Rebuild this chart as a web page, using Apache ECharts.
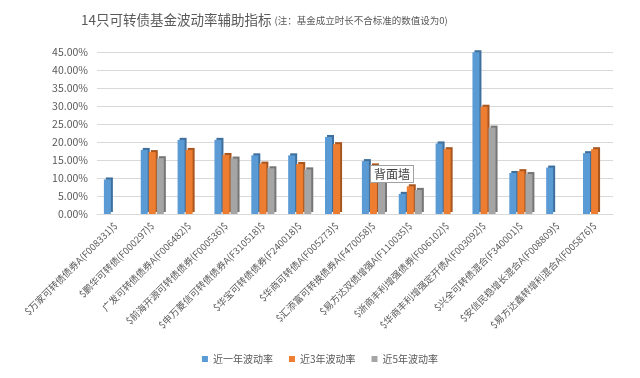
<!DOCTYPE html>
<html>
<head>
<meta charset="utf-8">
<script src="https://cdn.jsdelivr.net/npm/echarts@6/dist/echarts.min.js"></script>
<style>
  html, body { margin: 0; padding: 0; background: #fff; }
  #main { width: 640px; height: 378px; }
</style>
</head>
<body>
<div id="main"></div>
<script>
var funds = [
  '$万家可转债债券A(F008331)$', '$鹏华可转债(F000297)$', '广发可转债债券A(F006482)$',
  '$前海开源可转债债券(F000536)$', '$申万菱信可转债债券A(F310518)$', '$华宝可转债债券(F240018)$',
  '$华商可转债A(F005273)$', '$汇添富可转换债券A(F470058)$', '$易方达双债增强A(F110035)$',
  '$浙商丰利增强债券(F006102)$', '$华商丰利增强定开债A(F003092)$', '$兴全可转债混合(F340001)$',
  '$安信民稳增长混合A(F008809)$', '$易方达鑫转增利混合A(F005876)$'
];
var vol1y = [9.6, 17.8, 20.6, 20.6, 16.3, 16.3, 21.4, 14.7, 5.6, 19.6, 44.9, 11.4, 12.9, 16.9];
var vol3y = [0, 17.2, 17.8, 16.4, 14.0, 13.9, 19.4, 13.5, 7.7, 18.0, 29.8, 11.9, 0, 18.0];
var vol5y = [0, 15.5, 0, 15.4, 12.7, 12.4, 0, 12.5, 6.7, 0, 24.0, 11.1, 0, 0];

var seriesNames = ['近一年波动率', '近3年波动率', '近5年波动率'];
var colors = ['#5B9BD5', '#ED7D31', '#A5A5A5'];
var sideColors = ['#3F6F9C', '#A8561F', '#767676'];
var font = '"Noto Sans CJK SC", "Noto Sans", sans-serif';

function makeBar(i, values) {
  return {
    name: seriesNames[i],
    type: 'bar',
    data: values,
    barWidth: 7,
    barGap: '15%',
    itemStyle: {
      color: colors[i],
      shadowColor: sideColors[i],
      shadowBlur: 0,
      shadowOffsetX: 2,
      shadowOffsetY: -2
    }
  };
}

var myChart = echarts.init(document.getElementById('main'));
var option = {
  backgroundColor: '#fff',
  textStyle: { fontFamily: font },
  title: {
    text: '{a|14只可转债基金波动率辅助指标}{b|(注：基金成立时长不合标准的数值设为0)}',
    left: 76,
    top: 8,
    textStyle: {
      fontWeight: 'normal',
      rich: {
        a: { fontSize: 13.5, color: '#595959', fontFamily: font, fontWeight: 'normal' },
        b: { fontSize: 9.5, color: '#595959', fontFamily: font, fontWeight: 'normal', padding: [2, 0, 0, 3] }
      }
    }
  },
  legend: {
    bottom: 9,
    left: 'center',
    itemWidth: 6,
    itemHeight: 6,
    itemGap: 16,
    icon: 'rect',
    textStyle: { fontSize: 10, color: '#595959', fontFamily: font },
    data: seriesNames
  },
  grid: { left: 97, right: 27, top: 52, bottom: 164 },
  xAxis: {
    type: 'category',
    data: funds,
    axisTick: { show: false },
    axisLine: { lineStyle: { color: '#D9D9D9' } },
    axisLabel: {
      interval: 0,
      rotate: 45,
      fontSize: 9.5,
      color: '#595959',
      margin: 10,
      fontFamily: font
    }
  },
  yAxis: {
    type: 'value',
    min: 0,
    max: 45,
    interval: 5,
    axisLine: { show: false },
    axisTick: { show: false },
    splitLine: { lineStyle: { color: '#D9D9D9' } },
    axisLabel: {
      fontSize: 10.5,
      color: '#595959',
      margin: 9,
      formatter: function (v) { return v.toFixed(2) + '%'; }
    }
  },
  graphic: [{
    type: 'text',
    left: 370,
    top: 165,
    z: 100,
    style: {
      text: '背面墙',
      fontSize: 12,
      fill: '#404040',
      fontFamily: font,
      backgroundColor: '#fff',
      borderColor: '#A0A0A0',
      borderWidth: 1,
      padding: [2, 3]
    }
  }],
  series: [makeBar(0, vol1y), makeBar(1, vol3y), makeBar(2, vol5y)]
};
myChart.setOption(option);
</script>
</body>
</html>
